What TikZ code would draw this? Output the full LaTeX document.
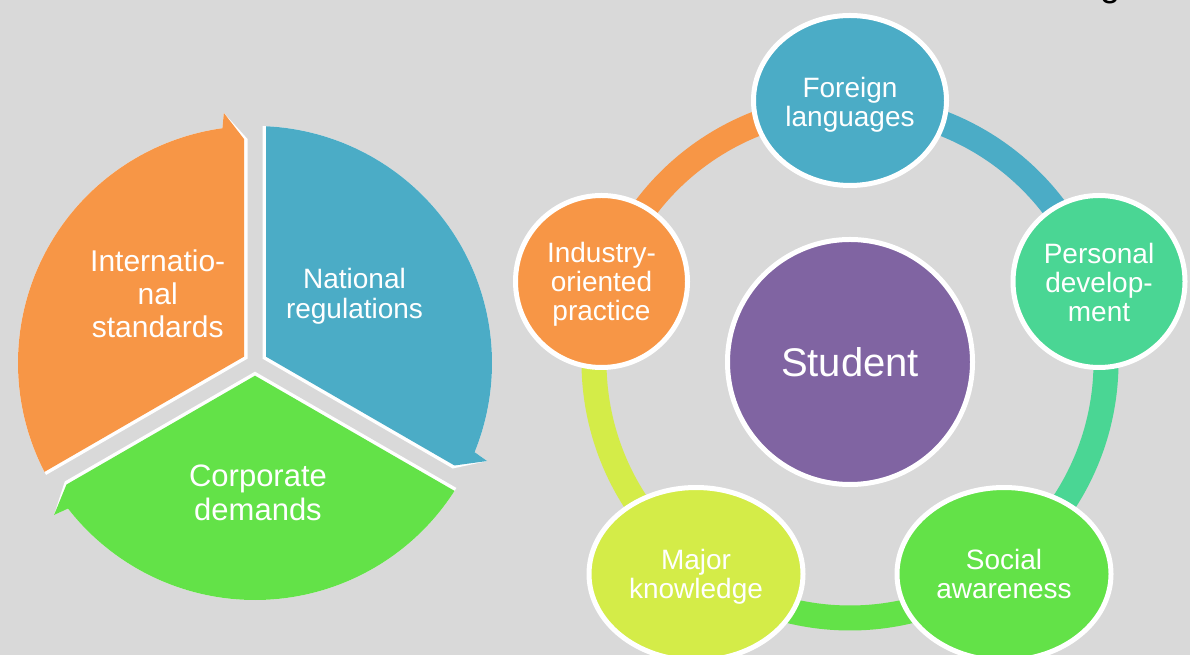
\documentclass[tikz,border=0pt]{standalone}
\usepackage{fontspec}
\setmainfont{Liberation Sans}
\usetikzlibrary{shapes.geometric}
\definecolor{bg}{RGB}{217,217,217}
\definecolor{corange}{RGB}{247,150,70}
\definecolor{cblue}{RGB}{75,172,198}
\definecolor{cgreen}{RGB}{99,226,72}
\definecolor{cteal}{RGB}{74,214,148}
\definecolor{cyellow}{RGB}{212,236,72}
\definecolor{cpurple}{RGB}{128,100,162}
% one arrow segment of the left cycle, drawn in the frame of the blue one
\newcommand\segshape[2]{%
  \fill[#2] (#1,{0.57735*#1}) -- (#1,{237*sqrt(1-(#1/237)^2)})
    arc[start angle={acos(#1/237)}, end angle=-22.1, radius=237]
    -- (-22.9:252) -- ({193.99+0.5*#1},{-112+0.866*#1}) -- cycle;}
\begin{document}
\begin{tikzpicture}[x=1pt,y=1pt,
  lbl/.style={text=white, align=center, inner sep=0pt},
  ring/.style={line width=25pt},
  bub/.style={ellipse, draw=white, line width=5pt, inner sep=0pt},
  btxt/.style={text=white, align=center, inner sep=0pt, font=\fontsize{28}{28.8}\selectfont}]
\fill[bg] (0,0) rectangle (1190,655);
\useasboundingbox (0,0) rectangle (1190,655);

% ---------- left cycle ----------
\begin{scope}[shift={(255,292)}]
  \segshape{7.5}{white}\segshape{11}{cblue}
\end{scope}
\begin{scope}[shift={(255,292)}, rotate=120]
  \segshape{7.5}{white}\segshape{11}{corange}
\end{scope}
\begin{scope}[shift={(255,292)}, rotate=-120]
  \segshape{7.5}{white}\segshape{11}{cgreen}
\end{scope}
\node[lbl, font=\fontsize{30}{33}\selectfont] (intl) at (157.7,361.3) {Internatio-\\nal\\standards};
\node[lbl, font=\fontsize{28}{30}\selectfont] (natl) at (354.5,358.7) {National\\regulations};
\node[lbl, font=\fontsize{31}{34}\selectfont] (corp) at (258,162.5) {Corporate\\demands};

% ---------- right ring ----------
\coordinate (rc) at (850,293);
\draw[ring, cblue]   (rc) ++(90:256)     arc[start angle=90,     end angle=17.9,   radius=256];
\draw[ring, cteal]   (rc) ++(17.9:256)   arc[start angle=17.9,   end angle=-54,    radius=256];
\draw[ring, cgreen]  (rc) ++(-54:256)    arc[start angle=-54,    end angle=-126,   radius=256];
\draw[ring, cyellow] (rc) ++(-126:256)   arc[start angle=-126,   end angle=-197.95,radius=256];
\draw[ring, corange] (rc) ++(162.05:256) arc[start angle=162.05, end angle=90,     radius=256];

\node[bub, fill=cblue,   minimum width=193, minimum height=170] (foreign)  at (850,554.5) {};
\node[bub, fill=cteal,   minimum width=172, minimum height=172] (personal) at (1099,373.5) {};
\node[bub, fill=cgreen,  minimum width=214, minimum height=173] (social)   at (1004,81) {};
\node[bub, fill=cyellow, minimum width=214, minimum height=173] (major)    at (696,81) {};
\node[bub, fill=corange, minimum width=172, minimum height=172] (industry) at (601.5,373.5) {};
\node[bub, fill=cpurple, minimum width=245, minimum height=245] (student) at (rc) {};

\node[btxt, yshift=-4.5] (foreignT)  at (foreign)  {Foreign\\languages};
\node[btxt, yshift=-1]   (personalT) at (personal) {Personal\\develop-\\ment};
\node[btxt, yshift=0]    (socialT)   at (social)   {Social\\awareness};
\node[btxt, yshift=-3]   (majorT)    at (major)    {Major\\knowledge};
\node[btxt, yshift=-2.5] (industryT) at (industry) {Industry-\\oriented\\practice};
\node[text=white, inner sep=0pt, font=\fontsize{40}{44}\selectfont] (studentT) at (student) {Student};

% fragment of a cut-off title letter
\node[text=black, font=\fontsize{36}{40}\selectfont, anchor=base, inner sep=0pt] (gfrag) at (1110,658.6) {g};
\end{tikzpicture}
\end{document}
